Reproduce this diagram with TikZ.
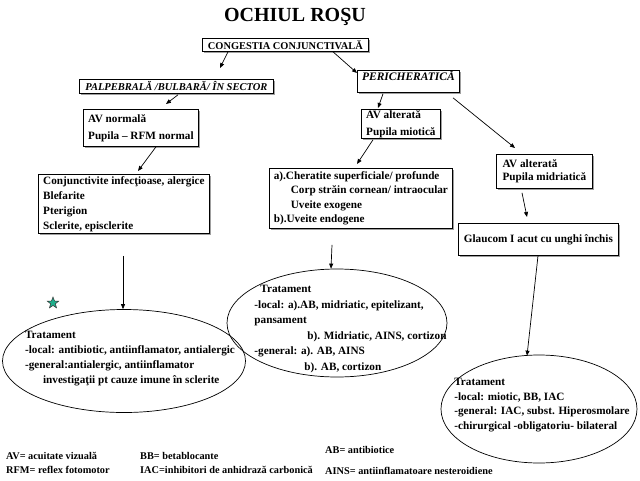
\documentclass[tikz,border=0pt]{standalone}
\usepackage{fontspec}
\setmainfont{Liberation Serif}
\usetikzlibrary{shapes.geometric,arrows.meta,shadows}
\newcommand\fsz[2]{\fontsize{#1}{#2}\selectfont\bfseries}
\definecolor{stargreen}{HTML}{1FAF8C}
\begin{document}
\begin{tikzpicture}[x=1pt,y=-1pt,
  box/.style={draw=black,line width=0.8pt,fill=white,
    drop shadow={shadow xshift=1.6pt,shadow yshift=-1.6pt,fill=gray!75,opacity=1},
    anchor=north west,inner xsep=2pt,inner ysep=0pt,align=left},
  ovalnode/.style={draw=black,line width=0.7pt,ellipse,inner sep=0pt},
  arr/.style={-{Triangle[length=5pt,width=4pt]},line width=0.7pt},
  legend/.style={anchor=base west,inner sep=0pt,font=\fsz{10.3}{12}},
  body/.style={font=\fsz{11.2}{#1}}
]
\useasboundingbox (0,0) rectangle (640,480);
\fill[white] (0,0) rectangle (640,480);

\node[anchor=base,inner sep=0pt,font=\fsz{20}{24}] (title) at (295,21) {OCHIUL ROŞU};

% boxes
\node[box,minimum width=166pt,minimum height=13pt,align=center,inner xsep=0pt,font=\fsz{10.4}{12}] (cong) at (202,38) {CONGESTIA CONJUNCTIVALĂ};
\node[box,minimum width=194pt,minimum height=14pt,align=center,inner xsep=0pt,font=\fsz{10.5}{12}\itshape] (palp) at (79,79) {PALPEBRALĂ /BULBARĂ/ ÎN SECTOR};
\node[box,minimum width=102pt,text height=9pt,text depth=11pt,inner ysep=1pt,inner xsep=3pt,font=\fsz{11.5}{13}\itshape] (peri) at (357,70) {PERICHERATICĂ};
\node[box,minimum width=115pt,minimum height=37pt,body=17] (avn) at (83,109) {AV normală\\Pupila – RFM normal};
\node[box,minimum width=79pt,minimum height=29pt,body=17] (ava) at (361,109) {AV alterată\\Pupila miotică};
\node[box,minimum width=96pt,minimum height=34pt,body=13] (avm) at (496,154) {AV alterată\\Pupila midriatică};
\node[box,minimum width=171pt,minimum height=59pt,body=15] (conj) at (38,174) {Conjunctivite infecţioase, alergice\\Blefarite\\Pterigion\\Sclerite, episclerite};
\node[box,minimum width=183pt,minimum height=60pt,body=14.5] (boxa) at (269,168) {a).Cheratite superficiale/ profunde\\\hspace*{17pt}Corp străin cornean/ intraocular\\\hspace*{17pt}Uveite exogene\\b).Uveite endogene};
\node[box,minimum width=160pt,minimum height=32pt,body=14] (glauc) at (458,223) {Glaucom I acut cu unghi închis};

% ellipses
\node[ovalnode,minimum width=243pt,minimum height=103pt,
  label={[align=left,inner sep=0pt,xshift=6pt,yshift=2pt,font=\fsz{11.2}{15}]center:{Tratament\\-local: antibiotic, antiinflamator, antialergic\\-general:antialergic, antiinflamator\\\hspace*{18pt}investigaţii pt cauze imune în sclerite}}] (ell1) at (124,361) {};
\node[ovalnode,minimum width=220pt,minimum height=108pt,
  label={[align=left,inner sep=0pt,xshift=13.5pt,yshift=-6pt,font=\fsz{11.2}{15.6}]center:{\hspace*{6pt}Tratament\\-local: a).AB, midriatic, epitelizant,\\pansament\\\hspace*{53pt}b). Midriatic, AINS, cortizon\\-general: a). AB, AINS\\\hspace*{50pt}b). AB, cortizon}}] (ell2) at (337,323) {};
\node[ovalnode,minimum width=196pt,minimum height=108pt,
  label={[align=left,inner sep=0pt,xshift=3pt,yshift=4pt,font=\fsz{11.2}{14.7}]center:{Tratament\\-local: miotic, BB, IAC\\-general: IAC, subst. Hiperosmolare\\-chirurgical -obligatoriu- bilateral}}] (ell3) at (539,409) {};

% star
\node[star,star points=5,star point ratio=2.4,fill=stargreen,draw=black!80,line width=0.5pt,minimum size=12pt,inner sep=0pt] (star) at (53,303) {};

% connectors
\draw[arr] ([shift={(26,0)}]cong.south west) -- ([shift={(141,-11)}]palp.north west);
\draw[arr] ([shift={(131,0)}]cong.south west) -- ([shift={(0,3)}]peri.north west);
\draw[arr] ([shift={(99,1)}]palp.south west) -- ([shift={(83,-5)}]avn.north west);
\draw[arr] ([shift={(73,0)}]avn.south west) -- ([shift={(100,-3)}]conj.north west);
\draw[arr] ([shift={(26,1)}]peri.south west) -- ([shift={(17,-1)}]ava.north west);
\draw[arr] ([shift={(96,5)}]peri.south west) -- ([shift={(19,-6)}]avm.north west);
\draw[arr] ([shift={(12,1)}]ava.south west) -- ([shift={(88,-4)}]boxa.north west);
\draw[arr] ([shift={(26,4)}]avm.south west) -- ([shift={(69,-6)}]glauc.north west);
\draw[arr] ([shift={(85,22)}]conj.south west) -- ([shift={(-1,0)}]ell1.north);
\draw[arr] ([shift={(63,16)}]boxa.south west) -- ([shift={(-6,0)}]ell2.north);
\draw[arr] ([shift={(80,0)}]glauc.south west) -- ([shift={(-12,1)}]ell3.north);

% legend
\node[legend] (l1) at (6,459) {AV= acuitate vizuală};
\node[legend] (l2) at (6,473) {RFM= reflex fotomotor};
\node[legend] (l3) at (140,459) {BB= betablocante};
\node[legend] (l4) at (140,473) {IAC=inhibitori de anhidrază carbonică};
\node[legend] (l5) at (325,453) {AB= antibiotice};
\node[legend] (l6) at (325,474) {AINS= antiinflamatoare nesteroidiene};
\end{tikzpicture}
\end{document}
